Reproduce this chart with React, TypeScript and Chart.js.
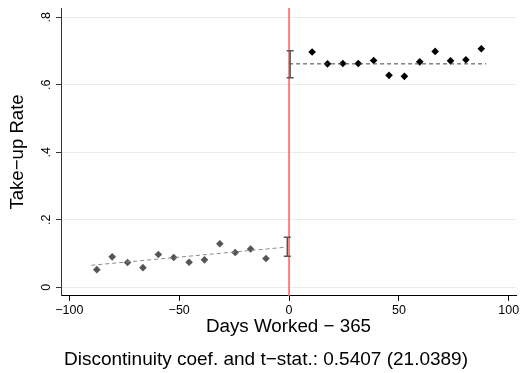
import React, { useEffect, useRef } from "react";
import { Chart, registerables } from "chart.js";

Chart.register(...registerables);

const FONT = "'Liberation Sans', Arial, Helvetica, sans-serif";

// Binned means (days worked - 365, take-up rate)
const leftX = [-87.5, -80.5, -73.5, -66.5, -59.5, -52.5, -45.5, -38.5, -31.5, -24.5, -17.5, -10.5];
const leftY = [0.052, 0.090, 0.073, 0.058, 0.097, 0.088, 0.074, 0.081, 0.129, 0.103, 0.113, 0.085];
const rightX = [10.5, 17.5, 24.5, 31.5, 38.5, 45.5, 52.5, 59.5, 66.5, 73.5, 80.5, 87.5];
const rightY = [0.697, 0.662, 0.663, 0.663, 0.672, 0.628, 0.625, 0.668, 0.699, 0.671, 0.674, 0.707];

// Fitted lines
const leftFitX = [-90, -1.5];
const leftFitY = [0.065, 0.1185];
const rightFitX = [0, 89.7];
const rightFitY = [0.662, 0.662];

// Confidence intervals at the cutoff: [x, low, high]
const ciX = [-0.8, 0.5];
const ciLow = [0.092, 0.621];
const ciHigh = [0.148, 0.701];

const xTicks = [-100, -50, 0, 50, 100];
const yTicks = [0, 0.2, 0.4, 0.6, 0.8];
const cutoff = 0;

const xTitle = "Days Worked \u2212 365";
const yTitle = "Take\u2212up Rate";
const note = "Discontinuity coef. and t\u2212stat.: 0.5407 (21.0389)";

const fmtY = (v: number) => (v === 0 ? "0" : String(v).replace(/^0/, ""));
const fmtX = (v: number) => (v < 0 ? "\u2212" + Math.abs(v) : String(v));

const pts = (xs: number[], ys: number[]) => xs.map((x, i) => ({ x, y: ys[i] }));

const overlay = {
  id: "overlay",
  beforeDatasetsDraw(chart: any) {
    const { ctx, chartArea, scales } = chart;
    const px = scales.x.getPixelForValue(cutoff);
    ctx.save();
    ctx.strokeStyle = "#ff5a5a";
    ctx.lineWidth = 1.5;
    ctx.beginPath();
    ctx.moveTo(px, chartArea.top);
    ctx.lineTo(px, chartArea.bottom);
    ctx.stroke();
    ctx.restore();
  },
  afterDatasetsDraw(chart: any) {
    const { ctx, scales } = chart;
    ctx.save();
    ctx.strokeStyle = "#555";
    ctx.lineWidth = 1.5;
    ciX.forEach((xv, i) => {
      const x = scales.x.getPixelForValue(xv);
      const y1 = scales.y.getPixelForValue(ciLow[i]);
      const y2 = scales.y.getPixelForValue(ciHigh[i]);
      ctx.beginPath();
      ctx.moveTo(x, y1);
      ctx.lineTo(x, y2);
      ctx.moveTo(x - 3.5, y1);
      ctx.lineTo(x + 3.5, y1);
      ctx.moveTo(x - 3.5, y2);
      ctx.lineTo(x + 3.5, y2);
      ctx.stroke();
    });
    ctx.restore();
  },
  afterDraw(chart: any) {
    const { ctx, width, height } = chart;
    ctx.save();
    ctx.fillStyle = "#000";
    ctx.font = "19px " + FONT;
    ctx.textAlign = "center";
    ctx.textBaseline = "middle";
    ctx.fillText(note, width / 2 + 6, height - 13);
    ctx.restore();
  },
};

export default function App() {
  const ref = useRef<HTMLCanvasElement | null>(null);
  useEffect(() => {
    if (!ref.current) return;
    Chart.defaults.font.family = FONT;
    const chart = new Chart(ref.current, {
      type: "scatter",
      data: {
        datasets: [
          {
            data: pts(leftFitX, leftFitY),
            showLine: true,
            borderColor: "#8a8a8a",
            borderWidth: 1,
            borderDash: [4, 3],
            pointRadius: 0,
          },
          {
            data: pts(rightFitX, rightFitY),
            showLine: true,
            borderColor: "#444",
            borderWidth: 1,
            borderDash: [4, 3],
            pointRadius: 0,
          },
          {
            data: pts(leftX, leftY),
            pointStyle: "rectRot",
            pointRadius: 3.8,
            backgroundColor: "#555",
            borderWidth: 0,
          },
          {
            data: pts(rightX, rightY),
            pointStyle: "rectRot",
            pointRadius: 3.8,
            backgroundColor: "#000",
            borderWidth: 0,
          },
        ] as any,
      },
      options: {
        animation: false,
        responsive: false,
        layout: { padding: { top: 8, left: 0, right: 2, bottom: 24.3 } },
        plugins: {
          legend: { display: false },
          tooltip: { enabled: false },
          title: { display: false },
        },
        scales: {
          x: {
            type: "linear",
            min: -103.8,
            max: 103.3,
            afterBuildTicks: (s: any) => {
              s.ticks = xTicks.map((v) => ({ value: v }));
            },
            afterFit: (s: any) => {
              s.height = 52.8;
              s.paddingLeft = 0;
              s.paddingRight = 0;
            },
            ticks: {
              callback: (v: any) => fmtX(Number(v)),
              color: "#000",
              font: { size: 12.5, family: FONT },
              padding: 2,
              maxRotation: 0,
              autoSkip: false,
            },
            grid: { drawOnChartArea: false, tickLength: 5, tickColor: "#000" },
            border: { color: "#000", width: 1 },
            title: {
              display: true,
              text: xTitle,
              color: "#000",
              font: { size: 18.8, family: FONT },
              padding: { top: 0, bottom: 10.5 },
            },
          },
          y: {
            type: "linear",
            min: -0.0258,
            max: 0.8276,
            afterBuildTicks: (s: any) => {
              s.ticks = yTicks.map((v) => ({ value: v }));
            },
            afterFit: (s: any) => {
              s.width = 61;
              s.paddingTop = 0;
              s.paddingBottom = 0;
            },
            ticks: {
              callback: (v: any) => fmtY(Number(v)),
              color: "#000",
              font: { size: 12.5, family: FONT },
              padding: 4,
              minRotation: 90,
              maxRotation: 90,
              crossAlign: "center",
            },
            grid: { color: "#ebebeb", lineWidth: 1, tickLength: 5, tickColor: "#333" },
            border: { color: "#333", width: 1 },
            title: {
              display: true,
              text: yTitle,
              color: "#000",
              font: { size: 18.6, family: FONT },
              padding: { top: 7, bottom: 0 },
            },
          },
        },
      } as any,
      plugins: [overlay],
    });
    return () => chart.destroy();
  }, []);
  return (
    <div style={{ position: "absolute", left: 0, top: 0, width: 520, height: 373, background: "#fff" }}>
      <canvas ref={ref} width={520} height={373} />
    </div>
  );
}
